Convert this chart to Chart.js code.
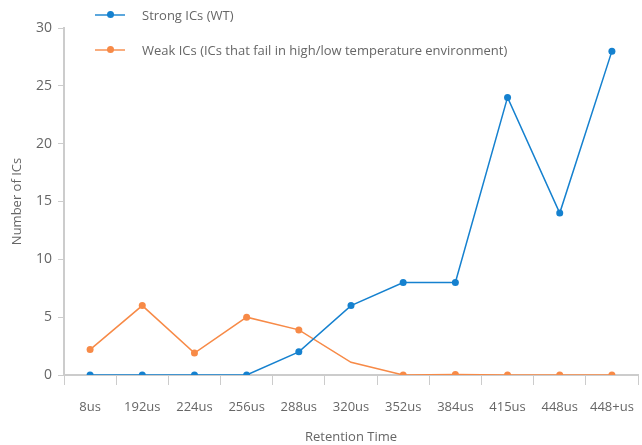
<!DOCTYPE html>
<html>
<head>
<meta charset="utf-8">
<script src="https://cdn.jsdelivr.net/npm/chart.js@4/dist/chart.umd.min.js"></script>
<style>
  html, body { margin: 0; padding: 0; background: #fff; }
  #wrap { position: relative; width: 642px; height: 445px; }
  #legend { position: absolute; left: 95px; top: -3px; font: 13px 'Open Sans', sans-serif; color: #666; }
  .item { display: flex; align-items: center; height: 35px; }
  .sample { position: relative; width: 30px; height: 7px; margin-right: 17px; }
  .sample .ln { position: absolute; left: 0; right: 0; top: 2.5px; height: 2px; opacity: 0.7; }
  .sample .dot { position: absolute; left: 11.5px; top: 0; width: 7px; height: 7px; border-radius: 50%; }
</style>
</head>
<body>
<div id="wrap">
  <canvas id="chart" width="642" height="445"></canvas>
  <div id="legend"></div>
</div>
<script>
const labels = ['8us', '192us', '224us', '256us', '288us', '320us', '352us', '384us', '415us', '448us', '448+us'];
const strongICs = [0, 0, 0, 0, 2, 6, 8, 8, 24, 14, 28];
const weakICs = [2.2, 6, 1.9, 5, 3.9, 1.1, 0, 0.05, 0, 0, 0];
const yTicks = [0, 5, 10, 15, 20, 25, 30];

const blue = '#1581cf';
const orange = '#f78a47';
const axisColor = '#cccccc';
const textColor = '#666666';
const font = "'Open Sans', sans-serif";

const chart = new Chart(document.getElementById('chart'), {
  type: 'line',
  data: {
    labels: labels,
    datasets: [
      {
        label: 'Strong ICs (WT)',
        data: strongICs,
        borderColor: blue,
        backgroundColor: blue,
        borderWidth: 1.5,
        pointRadius: 3.5,
        pointBorderWidth: 0,
        tension: 0,
      },
      {
        label: 'Weak ICs (ICs that fail in high/low temperature environment)',
        data: weakICs,
        borderColor: orange,
        backgroundColor: orange,
        borderWidth: 1.5,
        pointRadius: [3.5, 3.5, 3.5, 3.5, 3.5, 0, 3.5, 3.5, 3.5, 3.5, 3.5],
        pointBorderWidth: 0,
        tension: 0,
      },
    ],
  },
  options: {
    responsive: false,
    animation: false,
    layout: { padding: { top: 28, right: 0, left: 0, bottom: 0 } },
    plugins: {
      legend: { display: false },
      tooltip: { enabled: false },
    },
    scales: {
      x: {
        offset: true,
        grid: { offset: true, drawOnChartArea: false, color: axisColor, tickLength: 10 },
        border: { color: axisColor, width: 2 },
        ticks: { color: textColor, font: { family: font, size: 13 }, padding: 14, maxRotation: 0, autoSkip: false },
        title: { display: true, text: 'Retention Time', color: textColor, font: { family: font, size: 13 }, padding: { top: 6, bottom: 0 } },
        afterFit: (scale) => { scale.height = 70; scale.paddingLeft = 0; scale.paddingRight = -4; },
      },
      y: {
        min: 0,
        max: 30,
        afterBuildTicks: (scale) => { scale.ticks = yTicks.map(v => ({ value: v })); },
        grid: { drawOnChartArea: false, color: axisColor, tickLength: 6 },
        border: { color: axisColor, width: 2 },
        ticks: { color: textColor, font: { family: font, size: 14 }, padding: 6 },
        title: { display: true, text: 'Number of ICs', color: textColor, font: { family: font, size: 13 }, padding: { top: 9, bottom: 4 } },
        afterFit: (scale) => { scale.width = 64; },
      },
    },
  },
});

// legend sits over the plot, two rows, like the reference
const legendEl = document.getElementById('legend');
chart.data.datasets.forEach((ds) => {
  const item = document.createElement('div');
  item.className = 'item';
  item.innerHTML = '<div class="sample"><div class="ln" style="background:' + ds.borderColor + '"></div>' +
    '<div class="dot" style="background:' + ds.borderColor + '"></div></div><span>' + ds.label + '</span>';
  legendEl.appendChild(item);
});
</script>
</body>
</html>
